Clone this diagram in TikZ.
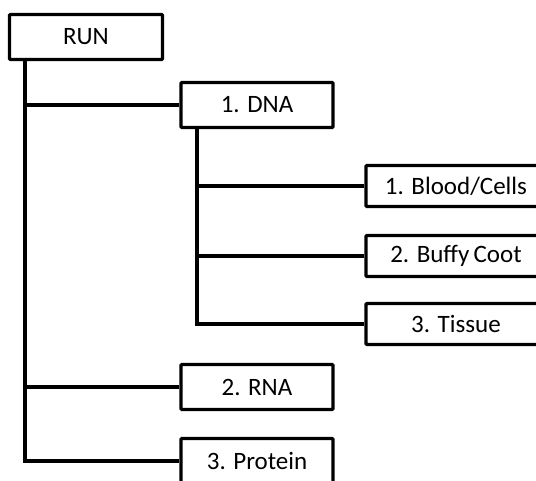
\documentclass[tikz,border=0pt]{standalone}
\usepackage{fontspec}
\setmainfont{Carlito}
\begin{document}
\begin{tikzpicture}[x=1pt,y=-1pt,
  box/.style={draw=black,line width=3.4pt,fill=white,rounded corners=1pt,font=\fontsize{25}{28}\selectfont,inner sep=0pt,anchor=center},
  wire/.style={draw=black,line width=3.6pt}]
\useasboundingbox (0,0) rectangle (536,480);
\clip (0,0) rectangle (536,480);
\node[box,minimum width=153pt,minimum height=45pt] (run) at (86,37) {RUN};
\node[box,minimum width=152pt,minimum height=45pt] (dna) at (257,105) {1. DNA};
\node[box,minimum width=180pt,minimum height=41pt] (blood) at (456,186) {1. Blood/Cells};
\node[box,minimum width=180pt,minimum height=41pt] (buffy) at (456,256) {2. Buffy\hspace{-1.5pt} Coot};
\node[box,minimum width=180pt,minimum height=41pt] (tissue) at (456,324) {3. Tissue};
\node[box,minimum width=152pt,minimum height=45pt] (rna) at (257,387) {2. RNA};
\node[box,minimum width=152pt,minimum height=45pt] (prot) at (257,461) {3. Protein};
\coordinate (t1) at (25,59);
\coordinate (t2) at (197,127);
\draw[wire] (t1) |- (dna.west);
\draw[wire] (t1) |- (rna.west);
\draw[wire] (t1) |- (prot.west);
\draw[wire] (t2) |- (blood.west);
\draw[wire] (t2) |- (buffy.west);
\draw[wire] (t2) |- (tissue.west);
\end{tikzpicture}
\end{document}
